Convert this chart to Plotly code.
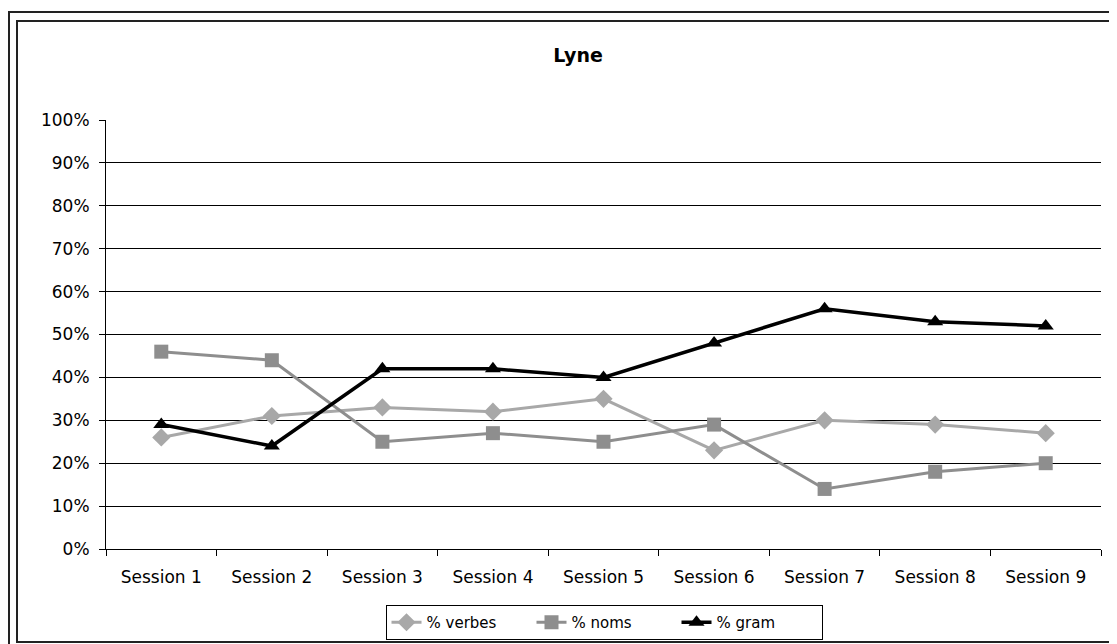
import plotly.graph_objects as go

sessions = ["Session 1", "Session 2", "Session 3", "Session 4", "Session 5",
            "Session 6", "Session 7", "Session 8", "Session 9"]
verbes = [0.26, 0.31, 0.33, 0.32, 0.35, 0.23, 0.30, 0.29, 0.27]
noms = [0.46, 0.44, 0.25, 0.27, 0.25, 0.29, 0.14, 0.18, 0.20]
gram = [0.29, 0.24, 0.42, 0.42, 0.40, 0.48, 0.56, 0.53, 0.52]
y_ticks = [i / 10 for i in range(11)]
y_labels = [f"{i*10}%" for i in range(11)]

FONT = "DejaVu Sans, Verdana, sans-serif"

fig = go.Figure()
fig.add_trace(go.Scatter(x=sessions, y=verbes, name="% verbes", mode="lines+markers",
                         line=dict(color="#a8a8a8", width=3),
                         marker=dict(symbol="diamond", size=14, color="#a8a8a8")))
fig.add_trace(go.Scatter(x=sessions, y=noms, name="% noms", mode="lines+markers",
                         line=dict(color="#8e8e8e", width=3),
                         marker=dict(symbol="square", size=14, color="#8e8e8e")))
fig.add_trace(go.Scatter(x=sessions, y=gram, name="% gram", mode="lines+markers",
                         line=dict(color="#000000", width=3.5),
                         marker=dict(symbol="triangle-up", size=14, color="#000000")))

# page body has an 8px margin, so the figure is laid out 8px up/left
W, H = 1109, 636
L, R, T, B = 98, 16, 112, 95
pw = W - L - R
ph = H - T - B

def px(x):
    return (x - L) / pw

def py(y):
    return (H - B - y) / ph

shapes = [
    dict(type="rect", xref="paper", yref="paper",
         x0=px(1), x1=px(1130), y0=py(4), y1=py(670),
         line=dict(color="#222222", width=2), fillcolor="rgba(0,0,0,0)", layer="below"),
    dict(type="rect", xref="paper", yref="paper",
         x0=px(9), x1=px(1107), y0=py(13), y1=py(634),
         line=dict(color="#222222", width=2), fillcolor="rgba(0,0,0,0)", layer="below"),
]

fig.update_layout(
    width=W, height=H,
    margin=dict(l=L, r=R, t=T, b=B, autoexpand=False),
    paper_bgcolor="white", plot_bgcolor="white",
    font=dict(family=FONT, size=17, color="#000000"),
    title=dict(text="<b>Lyne</b>", x=570 / W, xanchor="center",
               y=1 - 47 / H, yanchor="middle",
               font=dict(family=FONT, size=19, color="#000000")),
    showlegend=True,
    legend=dict(orientation="h", xanchor="center", x=px(596), yanchor="top", y=py(597),
                bordercolor="#000000", borderwidth=1, bgcolor="white",
                font=dict(family=FONT, size=15), tracegroupgap=0,
                entrywidth=100, entrywidthmode="pixels"),
    xaxis=dict(type="category", tickson="boundaries", ticks="outside", ticklen=6,
               tickcolor="#000000", showline=True, linecolor="#000000", linewidth=1,
               showgrid=False, range=[-0.5, 8.5], tickfont=dict(size=17),
               ticklabelstandoff=13, automargin=False),
    yaxis=dict(range=[0, 1], tickvals=y_ticks, ticktext=y_labels, ticks="outside",
               ticklen=6, tickcolor="#000000", showline=True, linecolor="#000000",
               linewidth=1, showgrid=True, gridcolor="#000000", gridwidth=1,
               zeroline=False, tickfont=dict(size=17), ticklabelstandoff=6,
               automargin=False),
    shapes=shapes,
)

fig.write_html("out.html")
